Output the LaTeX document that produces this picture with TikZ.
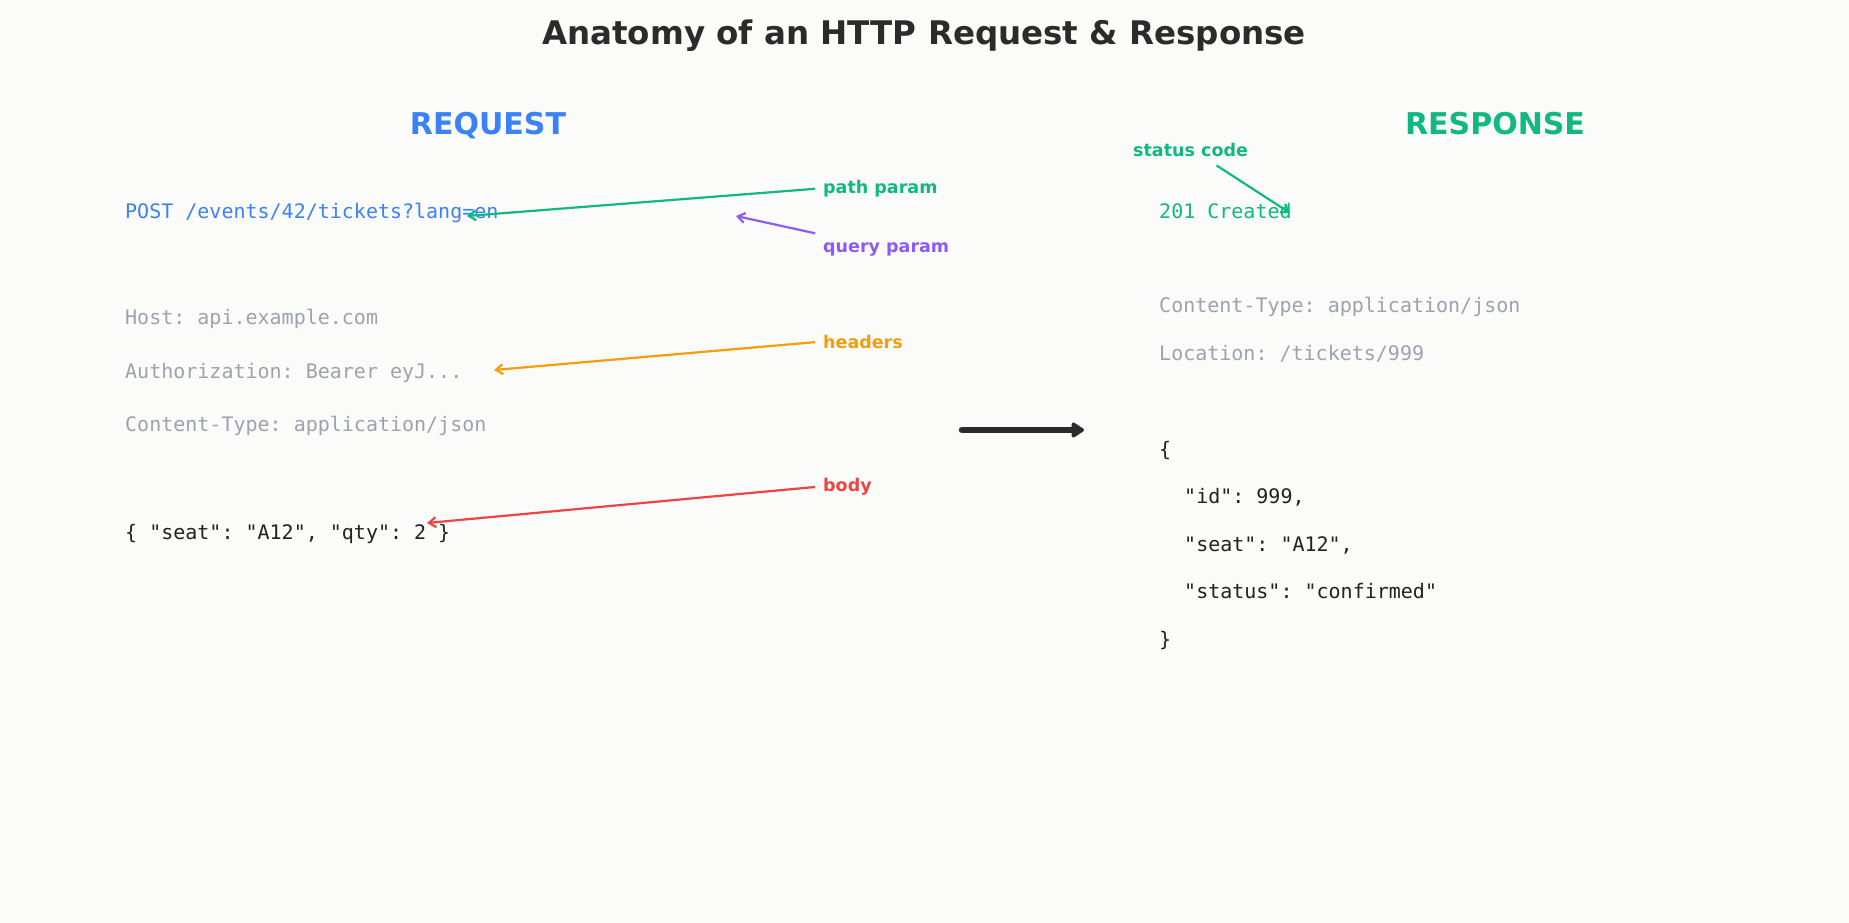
\documentclass[tikz,border=0pt]{standalone}
\usepackage{fontspec}
\setmainfont{DejaVu Sans}
\newfontfamily\monofont{DejaVu Sans Mono}
\usetikzlibrary{arrows.meta, positioning}
\frenchspacing

\definecolor{bgcol}{HTML}{FBFBF9}
\definecolor{ink}{HTML}{2B2B2B}
\definecolor{codeink}{HTML}{222222}
\definecolor{reqblue}{HTML}{3B82F6}
\definecolor{resgreen}{HTML}{10B981}
\definecolor{qpurple}{HTML}{8B5CF6}
\definecolor{hdrorange}{HTML}{F59E0B}
\definecolor{bodyred}{HTML}{EF4444}
\definecolor{hdrgray}{HTML}{9CA3AF}

\begin{document}
\begin{tikzpicture}[x=1pt,y=-1pt,
  code/.style={font=\monofont\fontsize{20}{24}\selectfont, anchor=base west, inner sep=0pt},
  note/.style={font=\bfseries\fontsize{17.5}{21}\selectfont, anchor=base west, inner sep=0pt},
  head/.style={font=\bfseries\fontsize{30}{36}\selectfont, anchor=base, inner sep=0pt},
  ptr/.style={-{Straight Barb[length=7pt,width=10pt]}, line width=2.2pt, shorten <=8pt}]
% Background
\fill[bgcol] (0,0) rectangle (1849,923);

% Titles
\node[font=\bfseries\fontsize{32.5}{38}\selectfont, text=ink, anchor=base, inner sep=0pt] (title) at (924,45) {Anatomy of an HTTP Request \& Response};
\node[head, text=reqblue] (reqhead) at (488,135) {REQUEST};
\node[head, text=resgreen] (reshead) at (1495,135) {RESPONSE};

% Request
\node[code, text=reqblue] (reqline) at (125,218) {POST /events/42/tickets?lang=en};
\node[code, text=hdrgray] (host) at (125,324) {Host: api.example.com};
\node[code, text=hdrgray] (auth) at (125,378) {Authorization: Bearer eyJ...};
\node[code, text=hdrgray] (reqtype) at (125,431) {Content-Type: application/json};
\node[code, text=codeink] (reqbody) at (125,539) {\{ "seat": "A12", "qty": 2 \}};

% Response
\node[code, text=resgreen] (status) at (1159,218) {201 Created};
\node[code, text=hdrgray] (restype) at (1159,312) {Content-Type: application/json};
\node[code, text=hdrgray] (loc) at (1159,360) {Location: /tickets/999};
\node[code, text=codeink] (open) at (1159,456) {\{};
\node[code, text=codeink] (fid) at (1184,503) {"id": 999,};
\node[code, text=codeink] (fseat) at (1184,551) {"seat": "A12",};
\node[code, text=codeink] (fstat) at (1184,598) {"status": "confirmed"};
\node[code, text=codeink] (close) at (1159,646) {\}};

% Callouts
\node[note, text=resgreen] (pathlbl) at (823,193) {path param};
\node[note, text=qpurple] (qrylbl) at (823,252) {query param};
\node[note, text=hdrorange] (hdrlbl) at (823,348) {headers};
\node[note, text=bodyred] (bodylbl) at (823,491) {body};
\node[note, text=resgreen] (statlbl) at (1133,157) {status code};

\coordinate (pathtip) at (467,216);
\coordinate (qrytip) at (736,216);
\coordinate (hdrtip) at (494,370);
\coordinate (bodytip) at (427,523);
\coordinate (stattip) at (1290,213);

\draw[ptr, resgreen] (pathlbl.west) -- (pathtip);
\draw[ptr, qpurple] ([yshift=7pt]qrylbl.north west) -- (qrytip);
\draw[ptr, hdrorange] (hdrlbl.west) -- (hdrtip);
\draw[ptr, bodyred] (bodylbl.west) -- (bodytip);
\draw[ptr, resgreen, shorten <=0pt] ([xshift=26pt,yshift=-8pt]statlbl.south) -- (stattip);

% Request -> Response
\coordinate (sendfrom) at (962,430);
\coordinate (sendto) at (1084,430);
\draw[ink, line width=6.5pt, line cap=round, -{Triangle[round, length=14pt, width=17pt]}] (sendfrom) -- (sendto);
\end{tikzpicture}
\end{document}
